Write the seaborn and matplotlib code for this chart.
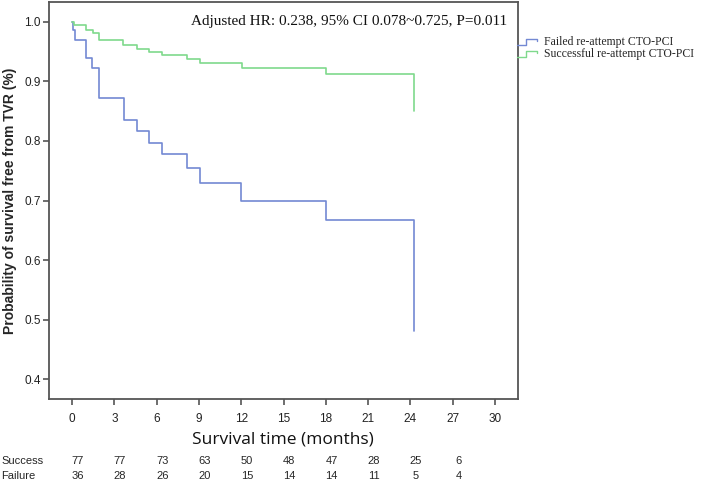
import numpy as np
import pandas as pd
import seaborn as sns
import matplotlib
matplotlib.use('Agg')
import matplotlib.pyplot as plt
from matplotlib.legend_handler import HandlerBase
from matplotlib.lines import Line2D

# Kaplan-Meier step points (months, survival probability)
fail_time = [0.0, 0.1, 0.2, 0.99, 1.42, 1.89, 3.69, 4.59, 5.48, 6.38, 8.13, 9.08, 12.0, 18.01, 24.25, 24.25]
fail_surv = [1.0, 0.986, 0.970, 0.940, 0.923, 0.872, 0.835, 0.816, 0.797, 0.778, 0.754, 0.730, 0.700, 0.668, 0.668, 0.481]

succ_time = [0.0, 0.12, 1.0, 1.47, 1.94, 3.64, 4.59, 5.46, 6.36, 8.13, 9.08, 12.06, 18.01, 24.25, 24.25]
succ_surv = [1.0, 0.9945, 0.986, 0.982, 0.969, 0.961, 0.955, 0.949, 0.945, 0.938, 0.931, 0.922, 0.913, 0.913, 0.850]

risk_times = [0, 3, 6, 9, 12, 15, 18, 21, 24, 27]
risk_success = [77, 77, 73, 63, 50, 48, 47, 28, 25, 6]
risk_failure = [36, 28, 26, 20, 15, 14, 14, 11, 5, 4]

labels = ['Failed re-attempt CTO-PCI', 'Successful re-attempt CTO-PCI']
colors = ['#7389d3', '#7fd98c']

df = pd.concat([
    pd.DataFrame({'time': fail_time, 'surv': fail_surv, 'group': labels[0]}),
    pd.DataFrame({'time': succ_time, 'surv': succ_surv, 'group': labels[1]}),
])

sns.set_style('white')
fig = plt.figure(figsize=(7.08, 4.8), dpi=100)
ax = fig.add_axes([49/708, 1-399/480, 469/708, 397/480])

for lab, col in zip(labels, colors):
    sub = df[df['group'] == lab]
    sns.lineplot(data=sub, x='time', y='surv', ax=ax, color=col, lw=1.2,
                 drawstyle='steps-post', estimator=None, sort=False)

ax.set_xlim(-1.63, 31.63)
ax.set_ylim(0.3665, 1.0335)
ax.set_xticks(range(0, 31, 3))
ax.set_yticks([0.4, 0.5, 0.6, 0.7, 0.8, 0.9, 1.0])
ax.set_yticklabels(['0.4', '0.5', '0.6', '0.7', '0.8', '0.9', '1.0'])
for s in ax.spines.values():
    s.set_color('#555555')
    s.set_linewidth(1.3)
ax.tick_params(axis='both', direction='out', length=4, width=1.2, color='#555555',
               labelsize=8.5, labelcolor='#222222', bottom=True, left=True)
ax.tick_params(axis='x', pad=6)
ax.tick_params(axis='y', pad=2)
for t in ax.get_xticklabels() + ax.get_yticklabels():
    t.set_family('Liberation Sans')
ax.set_xlabel('')
ax.set_ylabel('Probability of survival free from TVR (%)', family='Liberation Sans',
              fontsize=10, fontweight='bold', labelpad=5)

ax.text(0.977, 0.95, 'Adjusted HR: 0.238, 95% CI 0.078~0.725, P=0.011',
        transform=ax.transAxes, ha='right', va='center', family='Liberation Serif',
        fontsize=11, color='#111111')

fig.text(283/708, 1-439/480, 'Survival time (months)', ha='center', va='center',
         family='Open Sans', fontsize=12.5, color='#111111')


class StepHandler(HandlerBase):
    def create_artists(self, legend, orig, xd, yd, w, h, fs, trans):
        xs = [xd, xd + w*0.45, xd + w*0.45, xd + w, xd + w]
        ys = [yd, yd, yd + h*0.75, yd + h*0.75, yd + h*0.45]
        ln = Line2D(xs, ys, color=orig.get_color(), lw=1.0, transform=trans)
        return [ln]


handles = [Line2D([], [], color=c) for c in colors]
fig.legend(handles, labels, loc='upper left', bbox_to_anchor=(517/708, 1-36/480),
           frameon=False, prop={'family': 'Liberation Serif', 'size': 8.5},
           handler_map={Line2D: StepHandler()}, handlelength=1.7, handletextpad=0.6,
           labelspacing=0.0, borderaxespad=0, borderpad=0)

# number-at-risk table
fig.text(1/708, 1-461/480, 'Success', ha='left', va='center', family='Liberation Sans', fontsize=8)
fig.text(1/708, 1-476/480, 'Failure', ha='left', va='center', family='Liberation Sans', fontsize=8)
trans = matplotlib.transforms.blended_transform_factory(ax.transData, fig.transFigure)
for t, s, f in zip(risk_times, risk_success, risk_failure):
    ax.text(t + 0.4, 1-461/480, str(s), transform=trans, ha='center', va='center',
            family='Liberation Sans', fontsize=8, clip_on=False)
    ax.text(t + 0.4, 1-476/480, str(f), transform=trans, ha='center', va='center',
            family='Liberation Sans', fontsize=8, clip_on=False)

fig.savefig('out.png', dpi=100)
